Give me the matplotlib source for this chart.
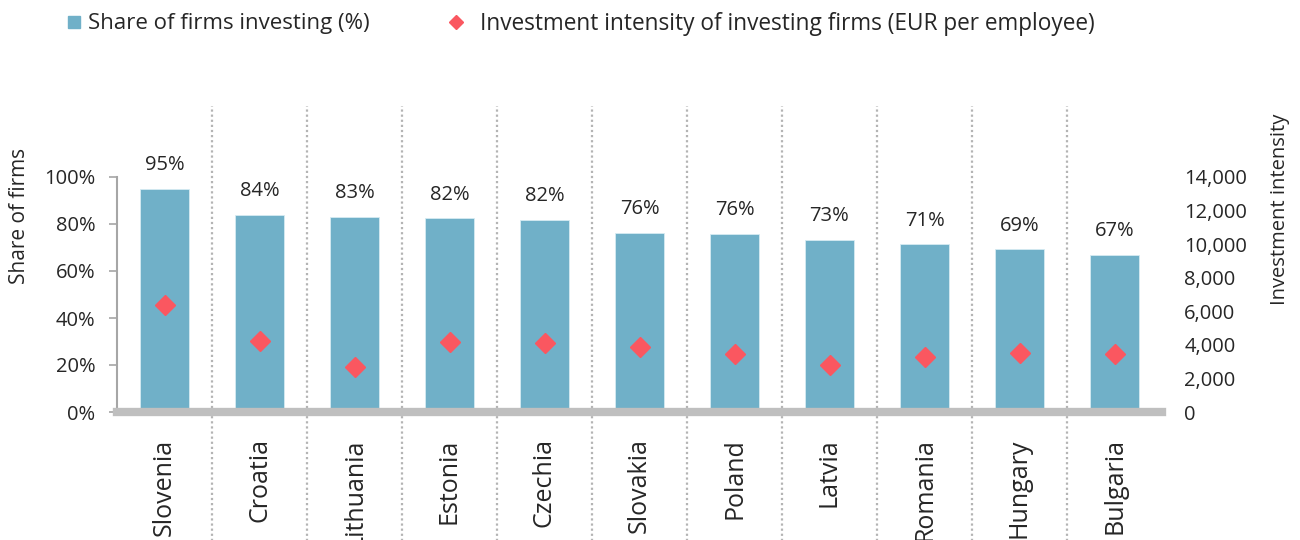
import matplotlib.pyplot as plt
from matplotlib.lines import Line2D
from matplotlib.ticker import FuncFormatter
import numpy as np

plt.rcParams['font.family'] = ['Open Sans', 'DejaVu Sans']

countries = ['Slovenia', 'Croatia', 'Lithuania', 'Estonia', 'Czechia', 'Slovakia',
             'Poland', 'Latvia', 'Romania', 'Hungary', 'Bulgaria']
share = [95, 84, 83, 82.4, 81.9, 76.2, 75.8, 73.2, 71.4, 69.3, 66.8]
intensity = [6350, 4250, 2700, 4150, 4100, 3900, 3450, 2800, 3300, 3500, 3450]

bar_col = '#70B0C8'
dia_col = '#FA5760'
txt_col = '#262626'

fig = plt.figure(figsize=(13, 5.4), dpi=100)
ax = fig.add_axes([117 / 1300, 1 - 412 / 540, 1045 / 1300, 235 / 540])
ax2 = ax.twinx()

x = np.arange(len(countries))
ax.bar(x, [s / 100 for s in share], width=0.52, color=bar_col,
       edgecolor='#d6ebf2', linewidth=0.6, zorder=1)
for xi, s in zip(x, share):
    ax.annotate('%d%%' % round(s), (xi, s / 100), xytext=(0, 17), textcoords='offset points',
                ha='center', va='center', fontsize=14.5, color=txt_col)

# dotted separators, running past the axes
for xi in x[:-1]:
    ax.axvline(xi + 0.5, ymin=-0.55, ymax=1.30, color='#b4b4b4', ls=(0, (1, 1.3)),
               lw=1.6, clip_on=False, zorder=0)

ax2.plot(x, intensity, ls='none', marker='D', ms=10, color=dia_col, zorder=5)

ax.set_xlim(-0.5, 10.5)
ax.set_ylim(0, 1.0)
ax.set_yticks(np.arange(0, 1.01, 0.2))
ax.yaxis.set_major_formatter(FuncFormatter(lambda v, p: '%d%%' % round(v * 100)))
ax.set_xticks(x)
ax.set_xticklabels(countries, rotation=90)
ax2.set_ylim(0, 14000)
ax2.set_yticks(np.arange(0, 14001, 2000))
ax2.yaxis.set_major_formatter(FuncFormatter(lambda v, p: '{:,.0f}'.format(v)))

for a in (ax, ax2):
    for s in ('top', 'right', 'left', 'bottom'):
        a.spines[s].set_visible(False)
ax.spines['left'].set_visible(True)
ax.spines['left'].set_color('#a6a6a6')
ax.spines['left'].set_linewidth(1.5)
ax.spines['bottom'].set_visible(True)
ax.spines['bottom'].set_color('#bfbfbf')
ax.spines['bottom'].set_linewidth(6)
ax.spines['bottom'].set_zorder(3)

ax.tick_params(axis='y', length=5.5, width=1.2, color='#a6a6a6', pad=10,
               labelsize=14.5, labelcolor=txt_col)
ax.tick_params(axis='x', length=0, pad=19, labelsize=18, labelcolor=txt_col)
ax2.tick_params(axis='y', length=0, pad=16, labelsize=14.5, labelcolor=txt_col)

ax.set_ylabel('Share of firms', fontsize=15, color=txt_col)
ax.yaxis.set_label_coords(-0.083, 0.834)
ax2.set_ylabel('Investment intensity', fontsize=14.5, color=txt_col)
ax2.yaxis.set_label_coords(1.103, 0.864)

# two legend entries placed separately (different gaps in the original)
leg1 = fig.legend([Line2D([], [], ls='none', marker='s', ms=8.5, color=bar_col)],
                  ['Share of firms investing (%)'],
                  loc='center left', bbox_to_anchor=(67 / 1300, 1 - 24 / 540),
                  frameon=False, fontsize=16, handlelength=0.6, handletextpad=0.36,
                  borderpad=0, borderaxespad=0, labelcolor=txt_col)
fig.legend([Line2D([], [], ls='none', marker='D', ms=7, color=dia_col)],
           ['Investment intensity of investing firms (EUR per employee)'],
           loc='center left', bbox_to_anchor=(449 / 1300, 1 - 24 / 540),
           frameon=False, fontsize=16.3, handlelength=0.6, handletextpad=0.78,
           borderpad=0, borderaxespad=0, labelcolor=txt_col)

fig.savefig('out.png', dpi=100)
